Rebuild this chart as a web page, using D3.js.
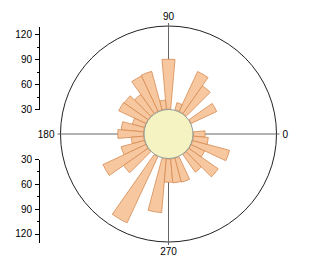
<!DOCTYPE html>
<html lang="en">
<head>
	<meta charset="utf-8">
	<title>polar histogram</title>
	<script src="https://d3js.org/d3.v7.min.js"></script>
	<style type="text/css">
		body { margin: 0; background: #fff; }
		text { font-family: "Liberation Sans", Arial, sans-serif; font-size: 10px; fill: #000; }
		.Axis path, .Axis line { fill: none; stroke: #000; shape-rendering: crispEdges; }
	</style>
</head>
<body>
	<svg id="placeholder1"></svg>
	<script type="text/javascript">
		// colors
		var barFill = "#f7c8a0"
		var barStroke = "#d58a52"
		var holeFill = "#f6f3c2"
		var holeStroke = "#8f9a98"
		var gridColor = "#666"

		// data: bin centres (deg, ccw from east) and radial values
		var binAngles = [0, 10, 20, 30, 40, 50, 60, 70, 80, 90, 100, 110, 120, 130, 140, 150, 160, 170,
			180, 190, 200, 210, 220, 230, 240, 250, 260, 270, 280, 290, 300, 310, 320, 330, 340, 350]
		var binValues = [44, 27, 25, 64, 28, 71, 83, 39, 29, 90, 41, 78, 77, 58, 65, 66, 45, 57,
			61, 45, 59, 87, 66, 29, 118, 27, 95, 58, 59, 60, 29, 56, 73, 48, 76, 48]
		var binWidth = 10

		var angleTicks = [0, 90, 180, 270]
		var radialTicks = [30, 60, 90, 120]
		var radialMinor = [45, 75, 105]
		var radialDomain = [30, 130]

		// size
		var wholeW = 310
		var wholeH = 270
		var cx = 168.5
		var cy = 134
		var rIn = 25
		var rOut = 108

		var rScale = d3.scaleLinear().domain(radialDomain).range([rIn, rOut]).clamp(true)

		var svg = d3.select("#placeholder1")
			.attr("width", wholeW)
			.attr("height", wholeH)

		var g = svg.append("g").attr("transform", "translate(" + cx + "," + cy + ")")

		// outer circle
		g.append("circle")
			.attr("r", rOut)
			.attr("fill", "none")
			.attr("stroke", "#222")
			.attr("stroke-width", 1)

		// cross lines + small ticks outside circle
		angleTicks.forEach(a => {
			var t = a * Math.PI / 180
			g.append("line")
				.attr("x1", 0).attr("y1", 0)
				.attr("x2", (rOut + 3) * Math.cos(t))
				.attr("y2", -(rOut + 3) * Math.sin(t))
				.attr("stroke", gridColor)
				.attr("stroke-width", 1)
		})

		// bars
		var data = binAngles.map((a, i) => ({angle: a, value: binValues[i]}))
		var arc = d3.arc()
			.innerRadius(rIn)
			.outerRadius(d => rScale(d.value))
			.startAngle(d => (90 - d.angle - binWidth / 2) * Math.PI / 180)
			.endAngle(d => (90 - d.angle + binWidth / 2) * Math.PI / 180)

		g.selectAll("path.bar")
			.data(data.filter(d => d.value > radialDomain[0]))
			.enter().append("path")
			.attr("class", "bar")
			.attr("d", arc)
			.attr("fill", barFill)
			.attr("stroke", barStroke)
			.attr("stroke-width", 0.8)

		// hole
		g.append("circle")
			.attr("r", rIn - 0.5)
			.attr("fill", holeFill)
			.attr("stroke", holeStroke)
			.attr("stroke-width", 1)

		// angle labels
		var labelPos = {0: [cx + rOut + 6, cy, "start"], 90: [cx, cy - rOut - 6, "middle"],
			180: [cx - rOut - 6, cy, "end"], 270: [cx, cy + rOut + 13, "middle"]}
		angleTicks.forEach(a => {
			var p = labelPos[a]
			svg.append("text")
				.attr("x", p[0])
				.attr("y", a == 90 ? p[1] : (a == 270 ? p[1] : p[1] + 3.5))
				.attr("text-anchor", p[2])
				.text(a)
		})

		// radial axes on the left (upper and lower half)
		var axisX = 39
		var yUp = d3.scaleLinear().domain(radialDomain).range([cy - rIn, cy - rOut])
		var yDown = d3.scaleLinear().domain(radialDomain).range([cy + rIn, cy + rOut])

		;[yUp, yDown].forEach(sc => {
			svg.append("g")
				.attr("class", "Axis")
				.attr("transform", "translate(" + axisX + ",0)")
				.call(d3.axisLeft(sc).tickValues(radialTicks).tickSize(4).tickSizeOuter(0).tickPadding(3))
			svg.append("g")
				.attr("class", "Axis")
				.attr("transform", "translate(" + axisX + ",0)")
				.call(d3.axisLeft(sc).tickValues(radialMinor).tickSize(2).tickSizeOuter(0).tickFormat(""))
		})
		svg.selectAll(".Axis text").style("font-size", "10px").style("font-family", "Liberation Sans, Arial, sans-serif")
	</script>
</body>
</html>
